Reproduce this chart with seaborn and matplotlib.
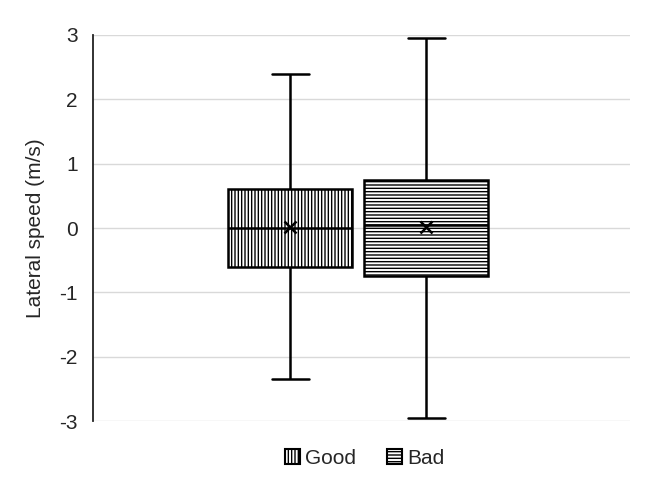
import numpy as np
import pandas as pd
import matplotlib
matplotlib.use("Agg")
import matplotlib.pyplot as plt
import matplotlib.patches as mpatches
import seaborn as sns

# 数据：每组五个数值 = 下须、Q1、中位数、Q3、上须
groups = ["Good", "Bad"]
good_vals = [-2.35, -0.6, 0.0, 0.6, 2.4]
bad_vals = [-2.95, -0.75, 0.05, 0.75, 2.95]
hatches = ["|||||", "-----"]
yticks = [-3, -2, -1, 0, 1, 2, 3]

data = pd.DataFrame({
    "group": [groups[0]] * len(good_vals) + [groups[1]] * len(bad_vals),
    "speed": good_vals + bad_vals,
})

sns.set_style("white")
plt.rcParams["font.family"] = ["Liberation Sans", "DejaVu Sans"]
plt.rcParams["hatch.color"] = "#333333"
plt.rcParams["hatch.linewidth"] = 1.0

fig = plt.figure(figsize=(6.62, 4.84), dpi=100)
ax = fig.add_axes([0.1405, 0.130, 0.8115, 0.7977])

sns.boxplot(data=data, x="group", y="speed", order=groups, ax=ax,
            whis=(0, 100), width=0.91, color="white", linecolor="black",
            linewidth=1.8, showfliers=False, showmeans=True,
            capwidths=0.27,
            meanprops=dict(marker="x", markeredgecolor="black",
                           markersize=8, markeredgewidth=1.8))

for patch, h in zip(ax.patches, hatches):
    patch.set_hatch(h)
    patch.set_facecolor("white")
    patch.set_edgecolor("black")

ax.set_xlim(-1.45, 2.5)
ax.set_ylim(-3, 3)
ax.set_yticks(yticks)
ax.set_yticklabels([str(t) for t in yticks], fontsize=15)
ax.set_xticks([])
ax.set_xlabel("")
ax.set_ylabel("Lateral speed (m/s)", fontsize=15, labelpad=10)
ax.yaxis.grid(True, color="#d9d9d9", linewidth=1)
ax.set_axisbelow(True)
for s in ["top", "right", "bottom"]:
    ax.spines[s].set_visible(False)
ax.spines["left"].set_color("#222222")
ax.spines["left"].set_linewidth(1.3)
ax.tick_params(axis="y", direction="out", length=5, width=1.3,
               color="#222222", pad=6)

handles = [mpatches.Patch(facecolor="white", edgecolor="black", hatch=h,
                          linewidth=1.5, label=g)
           for g, h in zip(groups, hatches)]
fig.legend(handles=handles, loc="center", bbox_to_anchor=(0.551, 0.053),
           ncol=2, frameon=False, fontsize=15, handlelength=0.7,
           handleheight=0.7, handletextpad=0.25, columnspacing=1.5)

fig.savefig("out.png", dpi=100)
